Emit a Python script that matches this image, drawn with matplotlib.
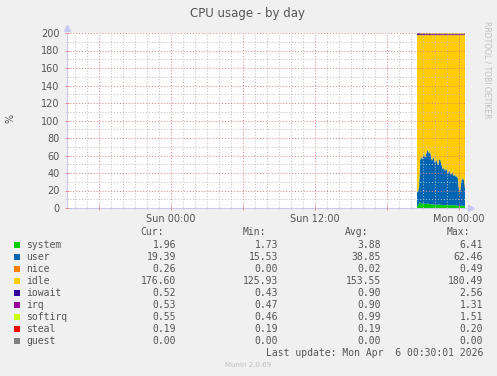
import numpy as np
import matplotlib.pyplot as plt
from matplotlib.patches import Rectangle
from matplotlib.ticker import MultipleLocator

W, H = 497, 376

# hours relative to Sun 00:00, one sample every 5 minutes
t = 20.5 + np.arange(49) / 12.0

system = [2.1, 2.4, 5.8, 6.41, 5.2, 4.9, 5.5, 4.7, 5.1, 4.3, 4.8, 5.6, 4.2, 4.6, 3.9, 4.4, 3.7,
          4.1, 3.5, 4.0, 3.6, 3.8, 4.2, 3.4, 3.9, 3.3, 3.6, 3.1, 3.5, 3.2, 3.7, 3.0, 3.4, 2.9,
          3.3, 3.6, 2.8, 3.1, 3.4, 2.7, 3.0, 2.6, 1.73, 1.9, 2.5, 2.9, 2.4, 2.6, 1.96]
user = [15.53, 16.8, 18.2, 47.5, 55.1, 50.3, 54.6, 58.2, 52.4, 56.7, 59.8, 61.2, 57.5, 62.46,
        54.3, 49.6, 55.2, 51.8, 47.3, 52.6, 49.1, 45.2, 50.4, 53.1, 47.6, 43.8, 40.2, 44.5,
        38.6, 42.3, 39.4, 36.1, 40.7, 37.2, 34.5, 38.3, 35.6, 33.1, 36.4, 32.2, 34.8, 30.1,
        17.4, 16.2, 26.3, 32.5, 29.4, 31.2, 19.39]
nice = [0.0] * 10 + [0.49] + [0.0] * 37 + [0.26]
idle = [179.97, 178.4, 173.6, 143.69, 137.3, 142.4, 137.5, 134.7, 140.1, 136.6, 133.0, 130.8,
        135.9, 130.54, 139.4, 143.6, 138.7, 141.7, 146.8, 141.0, 144.9, 148.6, 143.0, 141.1,
        146.1, 150.5, 153.8, 150.0, 155.5, 152.1, 154.5, 158.5, 153.5, 157.5, 159.8, 155.7,
        159.2, 161.4, 157.8, 162.7, 159.8, 164.9, 178.47, 179.5, 168.8, 162.2, 165.8, 163.8,
        176.60]
iowait = [0.9, 2.56, 1.4, 0.8, 1.1, 0.7, 0.9, 1.3, 0.6, 0.8, 1.0, 0.7, 0.9, 1.2, 0.8, 0.6,
          1.0, 0.9, 0.7, 1.1, 0.8, 0.6, 0.9, 1.0, 0.7, 0.8, 0.6, 0.9, 1.1, 0.7, 0.8, 0.5,
          0.9, 0.7, 0.6, 0.8, 1.0, 0.7, 0.6, 0.9, 0.8, 0.43, 0.7, 0.9, 0.6, 0.8, 0.7, 0.6, 0.52]
irq = [0.9, 1.1, 1.31, 1.0, 0.9, 1.1, 0.8, 1.0, 0.9, 1.2, 0.8, 0.9, 1.0, 0.8, 0.9, 1.1, 0.8,
       0.9, 1.0, 0.8, 0.9, 0.7, 1.0, 0.9, 0.8, 1.0, 0.9, 0.8, 0.9, 1.0, 0.8, 0.9, 0.7, 1.0,
       0.9, 0.8, 0.9, 1.0, 0.8, 0.9, 0.7, 0.8, 0.47, 0.6, 0.9, 0.8, 0.9, 0.7, 0.53]
softirq = [1.0, 1.2, 1.51, 1.1, 0.9, 1.2, 1.0, 1.3, 0.9, 1.1, 1.0, 1.2, 0.9, 1.0, 1.1, 0.9,
           1.0, 1.2, 0.9, 1.0, 1.1, 0.9, 1.0, 0.8, 1.0, 1.1, 0.9, 1.0, 0.8, 1.0, 0.9, 1.0,
           1.1, 0.9, 1.0, 0.8, 0.9, 1.0, 0.9, 1.0, 0.8, 0.9, 0.46, 0.6, 0.9, 1.0, 0.8, 0.9, 0.55]
steal = [0.19, 0.2, 0.19, 0.2, 0.19, 0.19, 0.2, 0.19, 0.19, 0.2, 0.19, 0.19, 0.2, 0.19, 0.19,
         0.2, 0.19, 0.19, 0.2, 0.19, 0.19, 0.2, 0.19, 0.19, 0.2, 0.19, 0.19, 0.2, 0.19, 0.19,
         0.2, 0.19, 0.19, 0.2, 0.19, 0.19, 0.2, 0.19, 0.19, 0.2, 0.19, 0.19, 0.2, 0.19, 0.19,
         0.2, 0.19, 0.19, 0.19]
guest = [0.0] * 49

names = ['system', 'user', 'nice', 'idle', 'iowait', 'irq', 'softirq', 'steal', 'guest']
colors = ['#00cc00', '#0066b3', '#ff8000', '#ffcc00', '#330099', '#990099', '#ccff00',
          '#ff0000', '#808080']
cur = [1.96, 19.39, 0.26, 176.60, 0.52, 0.53, 0.55, 0.19, 0.00]
mins = [1.73, 15.53, 0.00, 125.93, 0.43, 0.47, 0.46, 0.19, 0.00]
avgs = [3.88, 38.85, 0.02, 153.55, 0.90, 0.90, 0.99, 0.19, 0.00]
maxs = [6.41, 62.46, 0.49, 180.49, 2.56, 1.31, 1.51, 0.20, 0.00]

xticks = [-6, 0, 6, 12, 18, 24]
xlabels = ['', 'Sun 00:00', '', 'Sun 12:00', '', 'Mon 00:00']

txt = '#555555'
fig = plt.figure(figsize=(W / 100, H / 100), dpi=100, facecolor='#f0f0f0')
ax = fig.add_axes([67 / W, (H - 208) / H, 399 / W, 175 / H])
ax.set_facecolor('white')

ax.stackplot(t, system, user, nice, idle, iowait, irq, softirq, steal, guest,
             colors=colors, linewidth=0)

ax.set_xlim(-8.67, 24.58)
ax.set_ylim(0, 200)
ax.set_xticks(xticks)
ax.set_xticklabels(xlabels)
ax.xaxis.set_minor_locator(MultipleLocator(1))
ax.yaxis.set_major_locator(MultipleLocator(20))
ax.yaxis.set_minor_locator(MultipleLocator(10))
ax.grid(which='minor', color='#bcbcbc', linestyle=(0, (1, 2)), linewidth=0.7)
ax.grid(which='major', color='#e07a7a', linestyle=(0, (1, 2)), linewidth=0.7)
ax.set_axisbelow(False)
ax.tick_params(which='major', length=3, width=0.7, color='#e49090', direction='inout',
               labelsize=7, labelcolor=txt)
ax.tick_params(which='minor', length=2, width=0.7, color='#c8c8c8', direction='inout')
ax.tick_params(axis='y', pad=4)
ax.tick_params(axis='x', pad=3)
for s in ['top', 'right']:
    ax.spines[s].set_visible(False)
for s in ['left', 'bottom']:
    ax.spines[s].set_color('#c8c8f0')
    ax.spines[s].set_linewidth(0.8)
ax.plot([0], [1.03], marker='^', color='#c8c8f0', markersize=4,
        transform=ax.transAxes, clip_on=False)
ax.plot([1.012], [0], marker='>', color='#c8c8f0', markersize=4,
        transform=ax.transAxes, clip_on=False)


def ftext(x, y, s, **kw):
    fig.text(x / W, 1 - y / H, s, **kw)


ftext(248, 13, 'CPU usage - by day', ha='center', va='center', fontsize=8.5, color=txt)
ftext(10, 118, '%', ha='center', va='center', rotation=90, fontsize=7, color=txt)
ftext(487, 70, 'RRDTOOL / TOBI OETIKER', ha='center', va='center', rotation=270,
      fontsize=5.5, color='#c0c0c0')

mono = dict(family='DejaVu Sans Mono', fontsize=7, color=txt, va='center')
ftext(140, 232, 'Cur:', ha='left', **mono)
ftext(243, 232, 'Min:', ha='left', **mono)
ftext(345, 232, 'Avg:', ha='left', **mono)
ftext(447, 232, 'Max:', ha='left', **mono)
for i, name in enumerate(names):
    y = 245 + 12 * i
    fig.add_artist(Rectangle((14 / W, 1 - (y + 3) / H), 6 / W, 6 / H,
                             transform=fig.transFigure, color=colors[i], lw=0))
    ftext(26, y, name, ha='left', **mono)
    ftext(176, y, f'{cur[i]:.2f}', ha='right', **mono)
    ftext(278, y, f'{mins[i]:.2f}', ha='right', **mono)
    ftext(381, y, f'{avgs[i]:.2f}', ha='right', **mono)
    ftext(483, y, f'{maxs[i]:.2f}', ha='right', **mono)
ftext(483, 353, 'Last update: Mon Apr  6 00:30:01 2026', ha='right', **mono)
ftext(248, 365, 'Munin 2.0.69', ha='center', va='center', fontsize=5, color='#c0c0c0')

fig.savefig('out.png', dpi=100, facecolor=fig.get_facecolor())
